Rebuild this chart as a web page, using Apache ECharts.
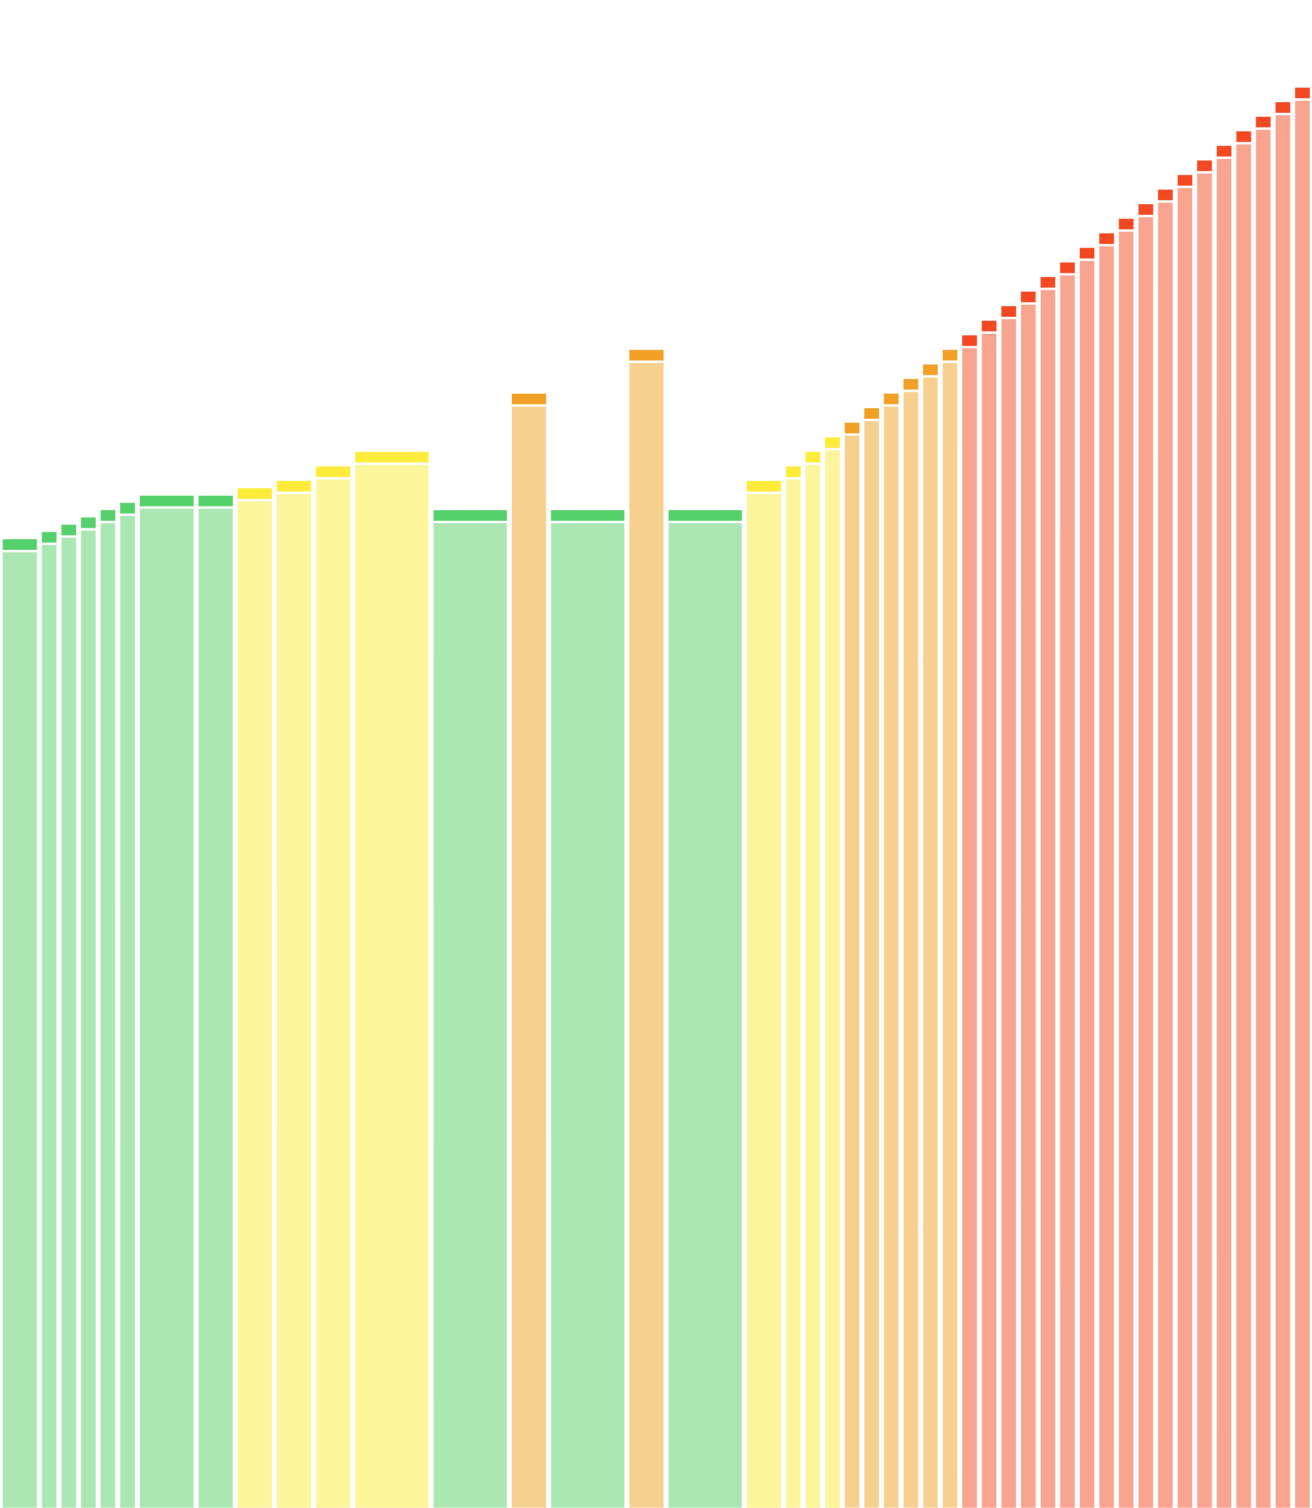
<!DOCTYPE html>
<html>
<head>
<meta charset="utf-8">
<script src="https://cdn.jsdelivr.net/npm/echarts@6/dist/echarts.min.js"></script>
<style>
  html, body { margin: 0; padding: 0; background: #fff; }
  #main { width: 1312px; height: 1508px; }
</style>
</head>
<body>
<div id="main"></div>
<script>
// length of every segment (x units) and its value
var durations = [2, 1, 1, 1, 1, 1, 3, 2, 2, 2, 2, 4, 4, 2, 4, 2, 4, 2,
  1, 1, 1, 1, 1, 1, 1, 1, 1,
  1, 1, 1, 1, 1, 1, 1, 1, 1, 1, 1, 1, 1, 1, 1, 1, 1, 1];
var values = [133, 134, 135, 136, 137, 138, 139, 139, 140, 141, 143, 145, 137, 153, 137, 159, 137, 141,
  143, 145, 147, 149, 151, 153, 155, 157, 159,
  161, 163, 165, 167, 169, 171, 173, 175, 177, 179, 181, 183, 185, 187, 189, 191, 193, 195];
// upper limit of each zone: green, yellow, orange (everything above is red)
var zoneLimits = [139, 147, 159];

var zoneFill = ['#abe7b3', '#fdf59c', '#f7d090', '#f8a48e'];
var zoneCap = ['#55d16b', '#feeb3a', '#f2a025', '#f34822'];

function zoneOf(v) {
  for (var i = 0; i < zoneLimits.length; i++) {
    if (v <= zoneLimits[i]) return i;
  }
  return zoneLimits.length;
}

var data = [];
var start = 0;
for (var i = 0; i < values.length; i++) {
  data.push([start, start + durations[i], values[i], zoneOf(values[i])]);
  start += durations[i];
}

var myChart = echarts.init(document.getElementById('main'));

function renderItem(params, api) {
  var topLeft = api.coord([api.value(0), api.value(2)]);
  var bottomRight = api.coord([api.value(1), 0]);
  var z = api.value(3);
  var x = topLeft[0] + 2.5;
  var w = bottomRight[0] - topLeft[0] - 4.5;
  var top = topLeft[1];
  var capH = 11;
  return {
    type: 'group',
    children: [{
      type: 'rect',
      shape: { x: x, y: top + capH + 2, width: w, height: bottomRight[1] - top - capH - 2 },
      style: { fill: zoneFill[z], stroke: 'rgba(255,255,255,0.5)', lineWidth: 1 }
    }, {
      type: 'rect',
      shape: { x: x, y: top, width: w, height: capH },
      style: { fill: zoneCap[z], stroke: 'rgba(255,255,255,0.4)', lineWidth: 1 }
    }]
  };
}

option = {
  animation: false,
  grid: { left: 0, right: 0, top: 0, bottom: 0 },
  xAxis: { type: 'value', min: 0, max: start, show: false },
  yAxis: { type: 'value', min: 0, max: 207, show: false },
  series: [{
    type: 'custom',
    renderItem: renderItem,
    encode: { x: [0, 1], y: 2 },
    data: data
  }]
};

myChart.setOption(option);
window.addEventListener("resize", function () {
  myChart.resize();
});
</script>
</body>
</html>
